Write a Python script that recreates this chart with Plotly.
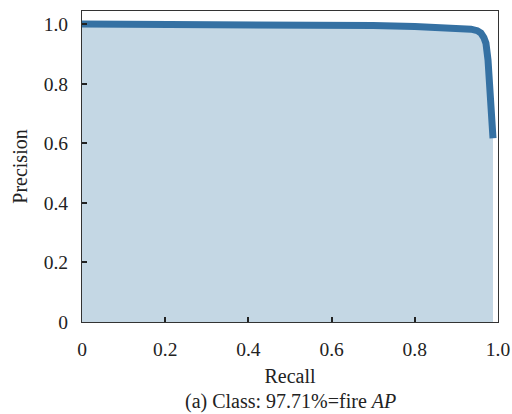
import plotly.graph_objects as go

recall = [0.0, 0.1, 0.2, 0.3, 0.4, 0.5, 0.55, 0.6, 0.7, 0.8, 0.84, 0.9, 0.935,
          0.95, 0.959, 0.966, 0.971, 0.976, 0.979, 0.981, 0.984, 0.986, 0.988]
precision = [1.0, 1.0, 1.0, 1.0, 1.0, 0.999, 0.997, 0.996, 0.995, 0.992, 0.990,
             0.987, 0.983, 0.978, 0.970, 0.955, 0.936, 0.879, 0.81, 0.745, 0.69, 0.65, 0.617]

tick_vals = [0, 0.2, 0.4, 0.6, 0.8, 1.0]
tick_text = ["0", "0.2", "0.4", "0.6", "0.8", "1.0"]

fig = go.Figure()
fig.add_trace(go.Scatter(
    x=recall, y=precision, mode="lines",
    fill="tozeroy", fillcolor="#c4d7e4",
    line=dict(color="#3571a3", width=7),
    showlegend=False, hoverinfo="skip"))

font_family = "Liberation Serif"
fig.update_layout(
    width=512, height=414,
    margin=dict(l=82, r=14, t=11, b=92),
    paper_bgcolor="white", plot_bgcolor="white",
    font=dict(family=font_family, size=19.5, color="#222"),
    xaxis=dict(range=[0, 1.0], tickvals=tick_vals, ticktext=tick_text,
               ticks="inside", ticklen=5, tickcolor="#222", tickwidth=1.5,
               showline=True, linecolor="#333", linewidth=1.2, mirror=True,
               showgrid=False, zeroline=False, automargin=False,
               ticklabelstandoff=9,
               title=dict(text="Recall", font=dict(size=20), standoff=10)),
    yaxis=dict(range=[0, 1.044], tickvals=tick_vals, ticktext=tick_text,
               ticks="inside", ticklen=5, tickcolor="#222", tickwidth=1.5,
               showline=True, linecolor="#333", linewidth=1.2, mirror=True,
               showgrid=False, zeroline=False, automargin=False,
               ticklabelstandoff=9,
               title=dict(text="Precision", font=dict(size=20), standoff=10)),
    annotations=[dict(text="(a) Class: 97.71%=fire <i>AP</i>", xref="paper", yref="paper",
                      x=0.5, y=-0.255, xanchor="center", yanchor="middle",
                      showarrow=False, font=dict(size=20, family=font_family))],
)

fig.write_html("out.html")
